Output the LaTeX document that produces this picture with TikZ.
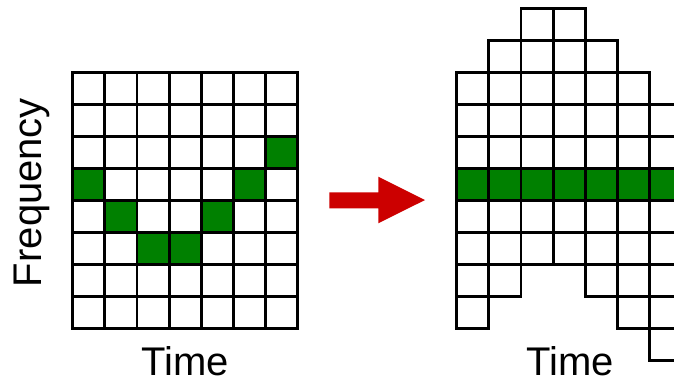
\documentclass[tikz,border=0pt]{standalone}
\usepackage{fontspec}
\setmainfont{Liberation Sans}
\definecolor{cellgreen}{HTML}{008000}
\definecolor{arrowred}{HTML}{CC0000}
\begin{document}
\begin{tikzpicture}[x=1pt,y=-1pt,
  cell/.style={draw=black,line width=2.8pt,fill=white},
  hit/.style={cell,fill=cellgreen},
  lbl/.style={font=\fontsize{40}{48}\selectfont,inner sep=0pt,anchor=base}]
\useasboundingbox (0,0) rectangle (674,381);

% left spectrogram: 7 time slots x 8 frequency bins, \g = active bin
\foreach \c/\g in {0/3,1/4,2/5,3/5,4/4,5/3,6/2} {
  \foreach \r in {0,...,7} {
    \ifnum\r=\g
      \path[hit] ({72.7+32.15*\c},{72.3+32*\r}) rectangle ++(32.15,32);
    \else
      \path[cell] ({72.7+32.15*\c},{72.3+32*\r}) rectangle ++(32.15,32);
    \fi
  }
}

% right spectrogram: each column shifted so the active bin lines up
\foreach \c/\g in {0/3,1/4,2/5,3/5,4/4,5/3,6/2} {
  \foreach \r in {0,...,7} {
    \ifnum\r=\g
      \path[hit] ({456.7+32.15*\c},{72.3+32*(3-\g+\r)}) rectangle ++(32.15,32);
    \else
      \path[cell] ({456.7+32.15*\c},{72.3+32*(3-\g+\r)}) rectangle ++(32.15,32);
    \fi
  }
}

% transformation arrow
\fill[arrowred] (329.3,192.3) -- (378.3,192.3) -- (378.3,176.7) -- (425,200)
  -- (378.3,223.3) -- (378.3,208.3) -- (329.3,208.3) -- cycle;

% axis labels
\node[lbl,rotate=90] (freq) at (41.7,192.5) {Frequency};
\node[lbl] (timeL) at (185,375.7) {Time};
\node[lbl] (timeR) at (570,375.7) {Time};
\end{tikzpicture}
\end{document}
